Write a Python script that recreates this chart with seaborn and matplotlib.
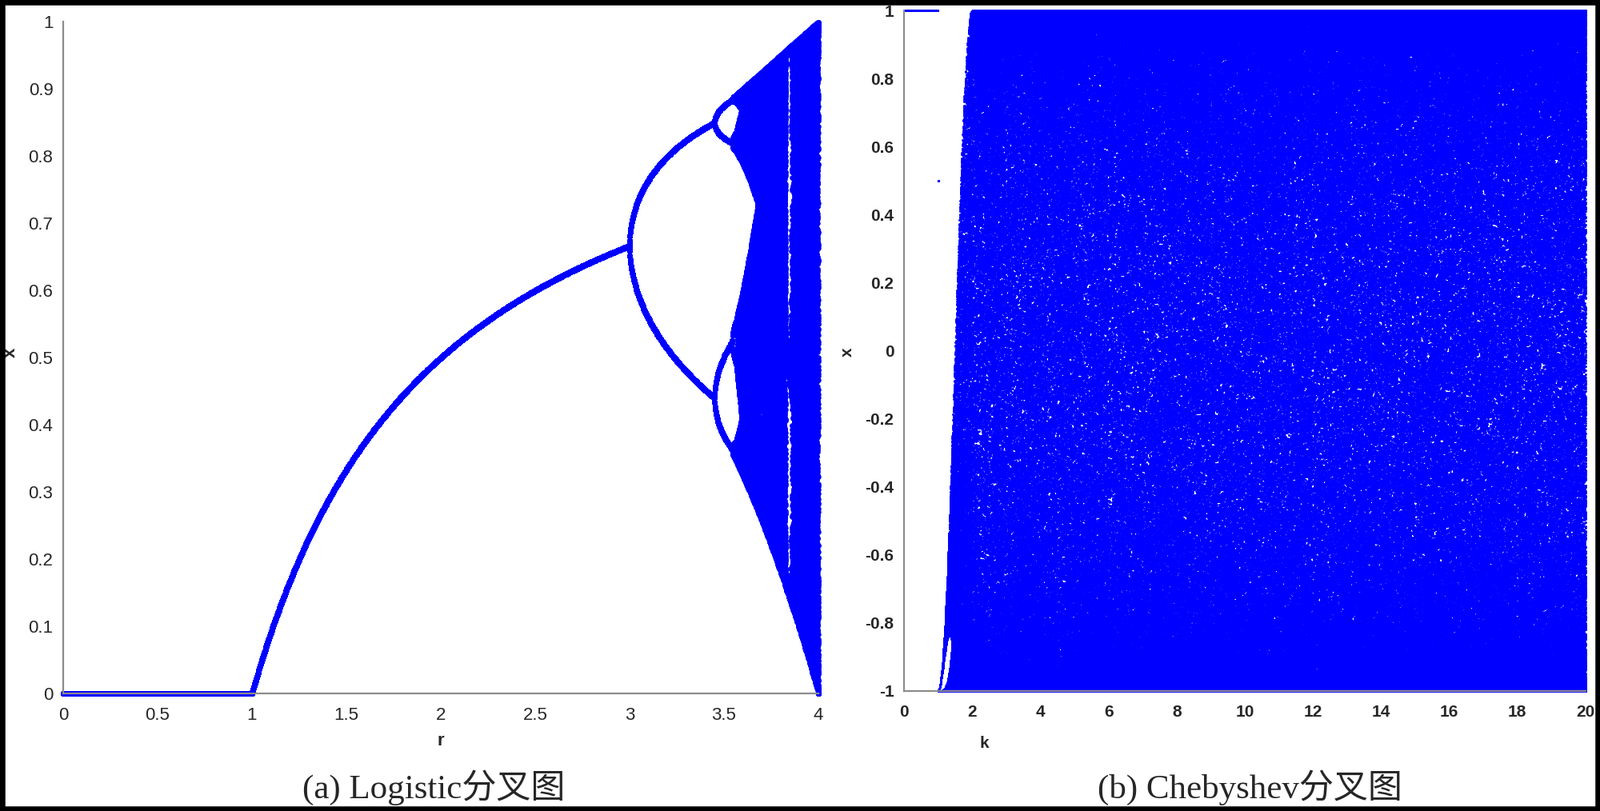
import numpy as np
import pandas as pd
import matplotlib
matplotlib.use("Agg")
import matplotlib.pyplot as plt
import seaborn as sns
from matplotlib.patches import Rectangle

# parametres des deux diagrammes
r_min, r_max, r_count = 0.0, 4.0, 2001
k_min, k_max, k_count = 0.0, 20.0, 2001
x0_logistic = 0.5
x0_cheb = 0.5
n_transient = 1000
n_keep_logistic = 200
n_keep_cheb = 300

r_ticks = [0, 0.5, 1, 1.5, 2, 2.5, 3, 3.5, 4]
x_ticks_a = [0, 0.1, 0.2, 0.3, 0.4, 0.5, 0.6, 0.7, 0.8, 0.9, 1]
k_ticks = [0, 2, 4, 6, 8, 10, 12, 14, 16, 18, 20]
x_ticks_b = [-1, -0.8, -0.6, -0.4, -0.2, 0, 0.2, 0.4, 0.6, 0.8, 1]

caption_a = "(a) Logistic分叉图"
caption_b = "(b) Chebyshev分叉图"

# orbites de la carte logistique
r_values = np.linspace(r_min, r_max, r_count)
x = np.full_like(r_values, x0_logistic)
for _ in range(n_transient):
    x = r_values * x * (1 - x)
rs, xs = [], []
for _ in range(n_keep_logistic):
    x = r_values * x * (1 - x)
    rs.append(r_values)
    xs.append(x.copy())
df_a = pd.DataFrame({"r": np.concatenate(rs), "x": np.concatenate(xs)})

# orbites de la carte de Chebyshev
k_values = np.linspace(k_min, k_max, k_count)
y = np.full_like(k_values, x0_cheb)
for _ in range(n_transient):
    y = np.cos(k_values * np.arccos(np.clip(y, -1, 1)))
ks, ys = [], []
for _ in range(n_keep_cheb):
    y = np.cos(k_values * np.arccos(np.clip(y, -1, 1)))
    ks.append(k_values)
    ys.append(y.copy())
df_b = pd.DataFrame({"k": np.concatenate(ks), "x": np.concatenate(ys)})

sns.set_style("white")
plt.rcParams["font.family"] = ["Liberation Sans", "DejaVu Sans"]

fig = plt.figure(figsize=(20, 10.14), dpi=100)
ax1 = fig.add_axes([0.0395, 0.145, 0.472, 0.828])
ax2 = fig.add_axes([0.565, 0.148, 0.426, 0.839])

sns.scatterplot(data=df_a, x="r", y="x", ax=ax1, color="#0000ff", s=22,
                linewidth=0, marker="o", rasterized=True, clip_on=False)
sns.scatterplot(data=df_b, x="k", y="x", ax=ax2, color="#0000ff", s=4.5,
                linewidth=0, marker="o", rasterized=True, clip_on=False)

spine_col = "#8c8c8c"
for ax, xt, yt, bold, fs in [(ax1, r_ticks, x_ticks_a, "normal", 16),
                             (ax2, k_ticks, x_ticks_b, "bold", 15)]:
    for side in ["top", "right"]:
        ax.spines[side].set_visible(False)
    for side in ["left", "bottom"]:
        ax.spines[side].set_color(spine_col)
        ax.spines[side].set_linewidth(1.6)
    ax.set_xticks(xt)
    ax.set_yticks(yt)
    ax.set_xticklabels([f"{v:g}" for v in xt], fontsize=fs, fontweight=bold)
    ax.set_yticklabels([f"{v:g}" for v in yt], fontsize=fs, fontweight=bold)
    ax.tick_params(direction="in", length=6, width=1, color=spine_col)
    ax.tick_params(axis="y", pad=9)
    ax.tick_params(axis="x", pad=12)
    ax.set_facecolor("white")

ax1.set_xlim(0, 4)
ax1.set_ylim(0, 1)
ax2.set_xlim(0, 20)
ax2.set_ylim(-1, 1)

ax1.set_xlabel("r", fontsize=16, fontweight="bold")
ax1.set_ylabel("x", fontsize=16, fontweight="bold")
ax1.xaxis.set_label_coords(0.5, -0.058)
ax1.yaxis.set_label_coords(-0.058, 0.508)
ax2.set_xlabel("k", fontsize=15, fontweight="bold")
ax2.set_ylabel("x", fontsize=15, fontweight="bold")
ax2.xaxis.set_label_coords(0.118, -0.066)
ax2.yaxis.set_label_coords(-0.072, 0.498)

cap_fonts = ["Liberation Serif", "Noto Sans CJK SC"]
fig.text(542 / 2000, 1 - 985 / 1014, caption_a, fontsize=31, family=cap_fonts,
         ha="center", va="center")
fig.text(1562 / 2000, 1 - 985 / 1014, caption_b, fontsize=31, family=cap_fonts,
         ha="center", va="center")

fig.patches.append(Rectangle((0, 0), 1, 1, transform=fig.transFigure, fill=False,
                             edgecolor="black", linewidth=9, zorder=10))

fig.savefig("out.png", dpi=100, facecolor="white")
